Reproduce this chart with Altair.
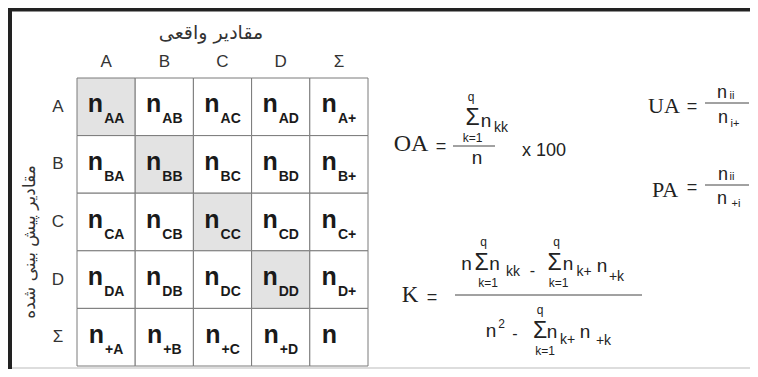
import altair as alt
import pandas as pd

# ---------------- data ----------------
classes = ["A", "B", "C", "D"]
total_label = "Σ"
title_top = "مقادیر واقعی"
title_left = "مقادیر پیش بینی شده"

# formula pieces (text, x, y, font size) in page pixel units
serif_pieces = [
    ("OA", 411, 144, 24), ("UA", 664, 106, 22), ("PA", 665, 190, 22), ("K", 410, 295, 23),
]
sans_pieces = [
    # OA
    ("=", 441, 147, 18), ("q", 471, 97, 12), ("Σ", 472.5, 118, 23), ("n", 486, 121, 19),
    ("kk", 501, 128, 14), ("k=1", 472.5, 138, 12), ("n", 477, 158, 19), ("x 100", 544, 151, 18),
    # UA
    ("=", 692, 107, 18), ("n", 722, 93, 18), ("ii", 732, 96, 11), ("n", 723, 118, 18), ("i+", 735, 124, 11),
    # PA
    ("=", 692, 188, 18), ("n", 723, 175, 18), ("ii", 732, 177, 11), ("n", 722, 199, 18), ("+i", 736, 204, 11),
    # K numerator
    ("=", 432, 298, 18), ("n", 466.5, 264, 19), ("Σ", 481.5, 263, 23), ("q", 483.5, 242, 12),
    ("k=1", 488, 283, 12), ("n", 494.5, 264, 19), ("kk", 513, 272, 14), ("-", 532.5, 271, 16),
    ("Σ", 554.5, 263, 23), ("q", 556.5, 242, 12), ("k=1", 558.5, 283, 12),
    ("n", 568, 264, 19), ("k+", 584, 272, 14), ("n", 602, 266, 19), ("+k", 616.5, 277, 14),
    # K denominator
    ("n", 491, 331, 19), ("2", 501.5, 324, 12), ("-", 515, 334, 16),
    ("Σ", 540, 331, 23), ("q", 540, 310, 12), ("k=1", 545, 351, 12),
    ("n", 552, 332, 19), ("k+", 567.5, 340, 14), ("n", 585, 332, 19), ("+k", 603.5, 341, 14),
]
fraction_lines = [(453, 495, 146), (705, 749, 103), (705, 749, 185), (455, 642, 295)]

# ---------------- layout ----------------
W, H = 742, 361
X0, Y0 = 8, 8
xs = alt.Scale(domain=[X0, X0 + W], nice=False, zero=False)
ys = alt.Scale(domain=[Y0, Y0 + H], nice=False, zero=False, reverse=True)

def X(f):
    return alt.X(f, type="quantitative", scale=xs, axis=None)

def Y(f):
    return alt.Y(f, type="quantitative", scale=ys, axis=None)

GX, GY, CW, CH = 77, 78, 58.2, 57.6
labels = classes + [total_label]
CHAR_W = {"+": 8.2}

cells = []
for r, rl in enumerate(labels):
    for c, cl in enumerate(labels):
        if r < 4 and c < 4:
            sub = rl + cl
        elif r < 4:
            sub = rl + "+"
        elif c < 4:
            sub = "+" + cl
        else:
            sub = ""
        x1, y1 = GX + c * CW, GY + r * CH
        cx, cy = x1 + CW / 2, y1 + CH / 2
        subw = sum(CHAR_W.get(ch, 10.1) for ch in sub)
        group = 15.3 + 1 + max(subw, 18)
        nx = cx - group / 2
        cells.append(dict(x1=x1, x2=x1 + CW, y1=y1, y2=y1 + CH,
                          fill="#e3e3e3" if (r == c and r < 4) else "#ffffff",
                          nx=nx, ny=cy - 2.5, sx=nx + 16.3, sy=cy + 12.5, sub=sub))
cells = pd.DataFrame(cells)

headers = []
for i, lab in enumerate(labels):
    headers.append(dict(t=lab, x=GX + (i + 0.5) * CW, y=61.5))
    headers.append(dict(t=lab, x=58, y=GY + (i + 0.5) * CH))
headers = pd.DataFrame(headers)

titles = pd.DataFrame([
    dict(t=title_top, x=211, y=33, a=0, s=19),
    dict(t=title_left, x=30, y=242, a=270, s=17),
])

serif_df = pd.DataFrame(serif_pieces, columns=["t", "x", "y", "s"])
sans_df = pd.DataFrame(sans_pieces, columns=["t", "x", "y", "s"])
frac_df = pd.DataFrame(fraction_lines, columns=["x1", "x2", "y"])

frame_df = pd.DataFrame([
    dict(x1=X0, x2=X0 + W, y1=9.5, y2=9.5),
    dict(x1=10, x2=10, y1=X0, y2=Y0 + H),
])
bottom_df = pd.DataFrame([dict(x1=12, x2=X0 + W, y1=368, y2=368)])

# ---------------- layers ----------------
frame = alt.Chart(frame_df).mark_rule(color="#222222", strokeWidth=4).encode(
    x=X("x1"), x2="x2", y=Y("y1"), y2="y2")
bottom = alt.Chart(bottom_df).mark_rule(color="#dddddd", strokeWidth=2).encode(
    x=X("x1"), x2="x2", y=Y("y1"), y2="y2")

rects = alt.Chart(cells).mark_rect(stroke="#7a7a7a", strokeWidth=1).encode(
    x=X("x1"), x2="x2", y=Y("y1"), y2="y2",
    fill=alt.Fill("fill:N", scale=None))

n_text = alt.Chart(cells).mark_text(
    text="n", font="Liberation Sans", fontWeight="bold", fontSize=25,
    align="left", baseline="middle", color="#1a1a1a").encode(x=X("nx"), y=Y("ny"))
sub_text = alt.Chart(cells).mark_text(
    font="Liberation Sans", fontWeight="bold", fontSize=14,
    align="left", baseline="middle", color="#1a1a1a").encode(
    x=X("sx"), y=Y("sy"), text="sub:N")

head_text = alt.Chart(headers).mark_text(
    font="Liberation Sans", fontSize=17, align="center", baseline="middle",
    color="#333333").encode(x=X("x"), y=Y("y"), text="t:N")

title_text = alt.Chart(titles).mark_text(
    font="DejaVu Sans", align="center", baseline="middle",
    color="#333333").encode(x=X("x"), y=Y("y"), text="t:N",
                            size=alt.Size("s:Q", scale=None),
                            angle=alt.Angle("a:Q", scale=None))

serif_text = alt.Chart(serif_df).mark_text(
    font="Liberation Serif", align="center", baseline="middle", color="#222222").encode(
    x=X("x"), y=Y("y"), text="t:N", size=alt.Size("s:Q", scale=None))
sans_text = alt.Chart(sans_df).mark_text(
    font="Liberation Sans", align="center", baseline="middle", color="#222222").encode(
    x=X("x"), y=Y("y"), text="t:N", size=alt.Size("s:Q", scale=None))

fracs = alt.Chart(frac_df).mark_rule(color="#444444", strokeWidth=1).encode(
    x=X("x1"), x2="x2", y=Y("y"))

chart = alt.layer(
    frame, bottom, rects, n_text, sub_text, head_text, title_text,
    serif_text, sans_text, fracs
).properties(
    width=W, height=H, padding=0,
    autosize=alt.AutoSizeParams(type="none"),
    background="white",
).configure_view(stroke=None)

chart.save("out.html", embed_options={"renderer": "svg", "actions": False})
